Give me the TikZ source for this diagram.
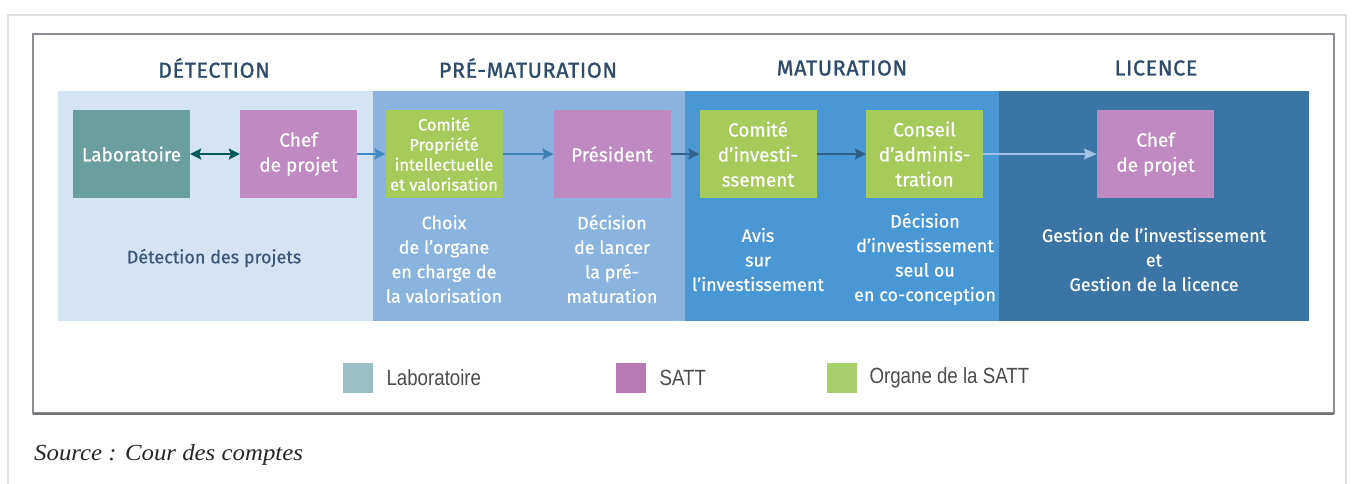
\documentclass[tikz,border=0pt]{standalone}
\usepackage{fontspec}
\setmainfont{Fira Sans}[FakeBold=0.5]
\newfontfamily\srcfont{Liberation Serif}[FakeStretch=1.08]
\newfontfamily\legfont{Liberation Sans}[FakeStretch=0.85]
\usetikzlibrary{arrows.meta}
\definecolor{bandA}{HTML}{D5E4F5}
\definecolor{bandB}{HTML}{8AB3E0}
\definecolor{bandC}{HTML}{4A97D5}
\definecolor{bandD}{HTML}{3A75A6}
\definecolor{labc}{HTML}{6B9E9F}
\definecolor{sattc}{HTML}{BF8AC2}
\definecolor{orgc}{HTML}{A5CB5B}
\definecolor{headc}{HTML}{2F4B6B}
\definecolor{txtc}{HTML}{3A5675}
\definecolor{framec}{HTML}{8A8E94}
\definecolor{legl}{HTML}{9ABEC2}
\definecolor{legs}{HTML}{B77AB4}
\definecolor{lego}{HTML}{A8D06A}
\tikzset{
  box/.style={minimum width=117pt,minimum height=88pt,inner sep=0pt,align=center,text=white,font=\fontsize{19}{25}\selectfont},
  head/.style={text=headc,font=\fontsize{21.5}{24}\selectfont\addfontfeature{FakeBold=1.2,LetterSpace=3}},
  desc/.style={align=center,text=white,font=\fontsize{18}{24.5}\selectfont},
  arr/.style={line width=2.4pt,-{Stealth[length=11pt,width=11pt,inset=2pt]}},
  legsq/.style={minimum width=30pt,minimum height=30pt,inner sep=0pt},
  legtxt/.style={anchor=west,text=black!70,font=\legfont\fontsize{22}{24}\selectfont}
}
\begin{document}
\begin{tikzpicture}[x=1pt,y=-1pt]
\useasboundingbox (0,0) rectangle (1352,484);
\fill[white] (0,0) rectangle (1352,484);
% outer light frame (screenshot border)
\draw[black!12,line width=1.2pt] (8,484) -- (8,15) -- (1346,15) -- (1346,484);
% inner frame
\draw[framec,line width=1.6pt] (33,34) rectangle (1334,413);
\draw[black!55,line width=2.2pt] (33,414) -- (1334,414);
% bands
\fill[bandA] (58,91) rectangle (373,321);
\fill[bandB] (373,91) rectangle (685,321);
\fill[bandC] (685,91) rectangle (999,321);
\fill[bandD] (999,91) rectangle (1309,321);
% headings
\node[head] (h1) at (214,68) {DÉTECTION};
\node[head] (h2) at (528,68) {PRÉ-MATURATION};
\node[head] (h3) at (842,68) {MATURATION};
\node[head] (h4) at (1156,68) {LICENCE};
% boxes
\node[box,fill=labc] (lab) at (131.5,154) {Laboratoire};
\node[box,fill=sattc] (chef1) at (298.5,154) {Chef\\de projet};
\node[box,fill=orgc,font=\fontsize{16.5}{20}\selectfont] (cpi) at (444,154) {Comité\\Propriété\\intellectuelle\\et valorisation};
\node[box,fill=sattc] (pres) at (612,154) {Président};
\node[box,fill=orgc] (cinv) at (758,154) {Comité\\d’investi-\\ssement};
\node[box,fill=orgc] (cadm) at (924.5,154) {Conseil\\d’adminis-\\tration};
\node[box,fill=sattc] (chef2) at (1155.5,154) {Chef\\de projet};
% arrows
\draw[arr,{Stealth[length=11pt,width=11pt,inset=2pt]}-{Stealth[length=11pt,width=11pt,inset=2pt]},color=teal!70!black] (lab.east) -- (chef1.west);
\draw[arr,color=bandC!90!black] (chef1.east) -- (cpi.west);
\draw[arr,color=bandC!85!black] (cpi.east) -- (pres.west);
\draw[arr,color=bandD!85!black] (pres.east) -- (cinv.west);
\draw[arr,color=bandD!80!black] (cinv.east) -- (cadm.west);
\draw[line width=1.4pt,color=bandB!80!white,-{Stealth[length=13pt,width=11pt,inset=2pt]}] (cadm.east) -- (chef2.west);
% descriptions
\node[desc,text=txtc] (d1) at (214,258) {Détection des projets};
\node[desc] (d2) at (444,259) {Choix\\de l’organe\\en charge de\\la valorisation};
\node[desc] (d3) at (612,259) {Décision\\de lancer\\la pré-\\maturation};
\node[desc] (d4) at (758,259.5) {Avis\\sur\\l’investissement};
\node[desc] (d5) at (925,259) {Décision\\d’investissement\\seul ou\\en co-conception};
\node[desc] (d6) at (1154,259.5) {Gestion de l’investissement\\et\\Gestion de la licence};
% legend
\node[legsq,fill=legl] (l1) at (358,378) {};
\node[legtxt] (t1) at (383,378) {Laboratoire};
\node[legsq,fill=legs] (l2) at (631,378) {};
\node[legtxt] (t2) at (656,378) {SATT};
\node[legsq,fill=lego] (l3) at (842,378) {};
\node[legtxt] (t3) at (866,378) {Organe de la SATT};
% source
\node[anchor=west,inner sep=0pt,text=black!85,font=\srcfont\itshape\fontsize{23}{26}\selectfont] (src) at (34,455) {Source : Cour des comptes};
\end{tikzpicture}
\end{document}
